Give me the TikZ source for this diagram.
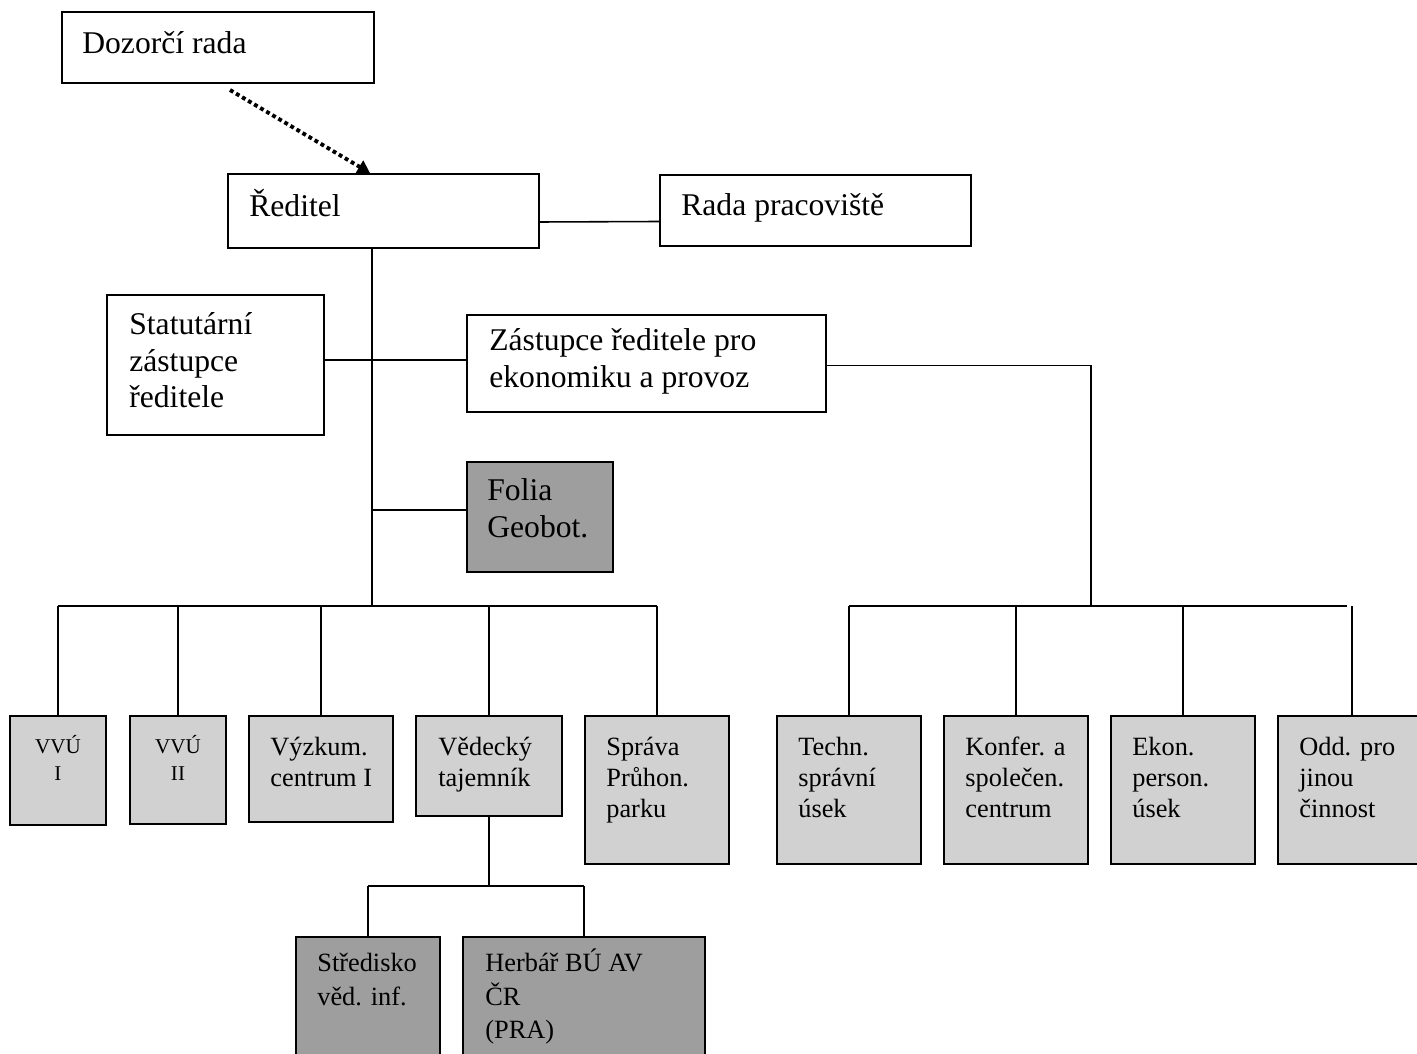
\documentclass[tikz,border=0pt]{standalone}
\usepackage{fontspec}
\setmainfont{Liberation Serif}
\usetikzlibrary{fit,arrows.meta}
\definecolor{lightbox}{gray}{0.82}
\definecolor{darkbox}{gray}{0.62}
\begin{document}
\begin{tikzpicture}[x=0.02cm,y=-0.02cm,
  box/.style={draw=black, line width=1.1pt, inner sep=0pt, fill=white, fit={#1}},
  lbox/.style={box={#1}, fill=lightbox},
  dbox/.style={box={#1}, fill=darkbox},
  conn/.style={draw=black, line width=0.9pt},
  dotarrow/.style={draw=black, line width=2.2pt, dash pattern=on 2.2pt off 1.8pt,
    -{Triangle[width=8pt,length=7pt]}},
  bigt/.style={anchor=north west, inner sep=0pt, align=left, font=\fontsize{18}{21}\selectfont},
  midt/.style={anchor=north west, inner sep=0pt, align=left, font=\fontsize{15}{17.5}\selectfont},
  herbt/.style={anchor=north west, inner sep=0pt, align=left, font=\fontsize{15}{19}\selectfont},
  smallt/.style={anchor=north, inner sep=0pt, align=center, font=\fontsize{12}{15}\selectfont}]
\path[use as bounding box, clip] (0,0) rectangle (1417,1054);

% boxes
\node[box={(62,12) (374,83)}] (doz) {};
\node[box={(228,174) (539,248)}] (red) {};
\node[box={(660,175) (971,246)}] (rada) {};
\node[box={(107,295) (324,435)}] (stat) {};
\node[box={(467,315) (826,412)}] (zast) {};
\node[dbox={(467,462) (613,572)}] (folia) {};
\node[lbox={(10,716) (106,825)}] (vvu1) {};
\node[lbox={(130,716) (226,824)}] (vvu2) {};
\node[lbox={(249,716) (393,822)}] (vyzk) {};
\node[lbox={(416,716) (562,816)}] (ved) {};
\node[lbox={(585,716) (729,864)}] (sprava) {};
\node[lbox={(777,716) (921,864)}] (tech) {};
\node[lbox={(944,716) (1088,864)}] (konf) {};
\node[lbox={(1111,716) (1255,864)}] (ekon) {};
\node[lbox={(1278,716) (1430,864)}] (odd) {};
\node[dbox={(296,937) (440,1070)}] (stred) {};
\node[dbox={(463,937) (705,1070)}] (herb) {};

% texts
\node[bigt] (dozt) at (82,27) {\strut Dozorčí rada};
\node[bigt] (redt) at (249,189) {\strut Ředitel};
\node[bigt] (radat) at (681,189) {\strut Rada pracoviště};
\node[bigt] (statt) at (129,308) {\strut Statutární\\zástupce\\ředitele};
\node[bigt] (zastt) at (489,324) {\strut Zástupce ředitele pro\\ekonomiku a provoz};
\node[bigt] (foliat) at (487,474) {\strut Folia\\Geobot.};
\node[smallt] (vvu1t) at (58,735) {\strut VVÚ\\I};
\node[smallt] (vvu2t) at (178,735) {\strut VVÚ\\II};
\node[midt] (vyzkt) at (270,734) {\strut Výzkum.\\centrum I};
\node[midt] (vedt) at (438,734) {\strut Vědecký\\tajemník};
\node[midt] (spravat) at (606,734) {\strut Správa\\Průhon.\\parku};
\node[midt] (techt) at (798,734) {\strut Techn.\\správní\\úsek};
\node[midt] (konft) at (965,734) {\strut Konfer. a\\společen.\\centrum};
\node[midt] (ekont) at (1132,734) {\strut Ekon.\\person.\\úsek};
\node[midt] (oddt) at (1299,734) {\strut Odd. pro\\jinou\\činnost};
\node[herbt] (stredt) at (317,948) {\strut Středisko\\věd. inf.};
\node[herbt] (herbt) at (485,948) {\strut Herbář BÚ AV\\ČR\\(PRA)};

% junction coordinates
\coordinate (dstart) at (230,90);
\coordinate (dend) at (370,173);
\coordinate (bus1) at (372,606);
\coordinate (bus2) at (1091,606);
\coordinate (bus2r) at (1347,606);
\coordinate (bus3) at (489,886);

% connectors
\draw[dotarrow] (dstart) -- (dend);
\draw[conn] ([yshift=-0.22cm]red.east) -- ([yshift=-0.22cm]rada.west);
\draw[conn] (bus1 |- red.south) -- (bus1);
\draw[conn] ([yshift=0.1cm]stat.east) -- ([yshift=0.1cm]stat.east -| zast.west);
\draw[conn] ([yshift=0.14cm]bus1 |- folia.west) -- ([yshift=0.14cm]folia.west);
\draw[conn] (vvu1.north |- bus1) -- (sprava.north |- bus1);
\foreach \n in {vvu1,vvu2,vyzk,ved,sprava} {
  \draw[conn] (\n.north |- bus1) -- (\n.north);
}
\draw[conn] ([yshift=-0.04cm]zast.east) -| (bus2);
\draw[conn] (tech.north |- bus2) -- (bus2r);
\foreach \n in {tech,konf,ekon} {
  \draw[conn] (\n.north |- bus2) -- (\n.north);
}
\draw[conn] ([xshift=0.1cm]bus2r) -- ([xshift=0.1cm]bus2r |- odd.north);
\draw[conn] (ved.south) -- (ved.south |- bus3);
\draw[conn] (stred.north |- bus3) -- (herb.north |- bus3);
\draw[conn] (stred.north |- bus3) -- (stred.north);
\draw[conn] (herb.north |- bus3) -- (herb.north);
\end{tikzpicture}
\end{document}
